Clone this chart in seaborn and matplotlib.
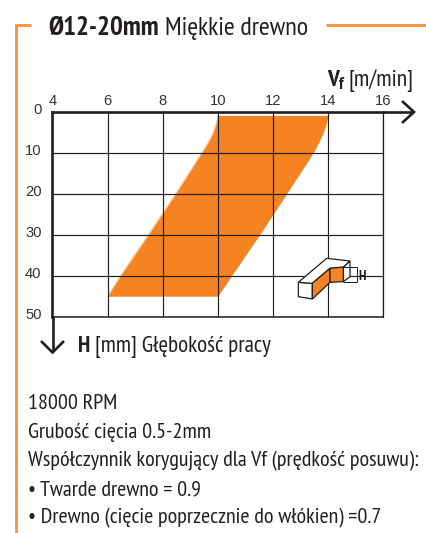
import matplotlib
matplotlib.use("Agg")
import matplotlib.pyplot as plt
from matplotlib.patches import Polygon
from matplotlib.transforms import Affine2D, ScaledTranslation
from matplotlib import font_manager as fm
import seaborn as sns

# data
vf_ticks = [4, 6, 8, 10, 12, 14, 16]
h_ticks = [0, 10, 20, 30, 40, 50]
band_h = [0.9, 2.5, 5.3, 7.5, 10, 20, 30, 40, 45]
band_left = [10.0, 9.96, 9.82, 9.65, 9.42, 8.47, 7.48, 6.47, 6.0]
band_right = [14.0, 13.96, 13.82, 13.66, 13.47, 12.5, 11.52, 10.5, 10.0]
title_bold = "Ø12-20mm"
title_light = "Miękkie drewno"
notes = ["18000 RPM", "Grubość cięcia 0.5-2mm",
         "Współczynnik korygujący dla Vf (prędkość posuwu):",
         "• Twarde drewno = 0.9",
         "• Drewno (cięcie poprzecznie do włókien) =0.7"]

ORANGE = "#F58322"
BORDER = "#F7923A"
INK = "#231F20"

sns.set_theme(style="white")
names = {f.name for f in fm.fontManager.ttflist}
COND = next((n for n in ["PT Sans Narrow", "Fira Sans Condensed", "Roboto Condensed",
                         "Liberation Sans Narrow", "Liberation Sans"] if n in names), "DejaVu Sans")
plt.rcParams["font.family"] = [COND, "DejaVu Sans"]

W, H = 427, 533
fig = plt.figure(figsize=(W / 100, H / 100), dpi=100, facecolor="white")
x0, x1, ytop, ybot = 52.5, 383, 111.7, 316.7
ax = fig.add_axes([x0 / W, 1 - ybot / H, (x1 - x0) / W, (ybot - ytop) / H])
px = Affine2D().scale(1, -1).translate(0, H)  # reference-pixel layout coordinates

ax.fill_betweenx(band_h, band_left, band_right, color=ORANGE, lw=0, zorder=1)
sns.lineplot(x=band_left, y=band_h, orient="y", color=ORANGE, lw=0.3, ax=ax, zorder=1)
sns.lineplot(x=band_right, y=band_h, orient="y", color=ORANGE, lw=0.3, ax=ax, zorder=1)

ax.set_xlim(4, 16)
ax.set_ylim(50, 0)
ax.set_xticks(vf_ticks)
ax.set_yticks(h_ticks)
ax.grid(True, color="#1f1f1f", lw=0.85, zorder=2)
ax.set_axisbelow(False)
ax.xaxis.tick_top()
ax.tick_params(length=0, labelsize=10.6, labelcolor="#333333", pad=2.5)
for lab in ax.get_xticklabels() + ax.get_yticklabels():
    lab.set_family("Liberation Sans")
for lab in ax.get_yticklabels():
    lab.set_transform(lab.get_transform() + ScaledTranslation(-7.5 / 100, 3.5 / 100, fig.dpi_scale_trans))
for s, lw in (("top", 1.9), ("left", 1.9), ("bottom", 1.1), ("right", 0.9)):
    ax.spines[s].set_visible(True)
    ax.spines[s].set_color("#1f1f1f")
    ax.spines[s].set_linewidth(lw)


def line(xs, ys, lw=1.0, color="#1f1f1f", z=6):
    fig.add_artist(plt.Line2D(xs, ys, transform=px, color=color, lw=lw, zorder=z,
                              solid_capstyle="butt", solid_joinstyle="miter"))


def text(x, y, s, **kw):
    kw.setdefault("color", INK)
    return fig.text(x, y, s, transform=px, va="baseline", **kw)


# axis arrows
line([383, 413], [112, 112], 1.9)
line([402, 414, 402], [101, 112, 123], 1.9)
line([52.5, 52.5], [316, 351], 1.9)
line([41, 52.5, 64], [341, 352.5, 341], 1.9)

# orange frame
line([31, 15.5, 15.5], [25, 25, 533], 2.0, BORDER)
line([326, 427], [25, 25], 2.0, BORDER)

# headings
text(48, 35, title_bold, fontsize=19.5, fontweight="bold")
text(165, 35, title_light, fontsize=18.9)
text(327, 86, "V", fontsize=17, fontweight="bold")
text(339, 89, "f", fontsize=12.5, fontweight="bold")
text(349, 86, "[m/min]", fontsize=17)
text(78, 352, "H", fontsize=16.7, fontweight="bold")
text(95, 352, "[mm] Głębokość pracy", fontsize=16.7)

# notes
for y, s in zip([409, 437.5, 466, 495, 523], notes):
    text(28, y, s, fontsize=15.9)

# workpiece icon, reference-pixel layout
def icon_xy(pts):
    return [(280 + a / 3, 250 + b / 3) for a, b in pts]


def icon_poly(pts, fc):
    fig.add_artist(Polygon(icon_xy(pts), closed=True, transform=px, fc=fc, ec="#1f1f1f", lw=0.9, zorder=5))


icon_poly([(55, 97), (97, 100), (97, 147), (55, 140)], "white")
icon_poly([(55, 97), (140, 25), (210, 33), (190, 52), (150, 55), (97, 100)], "white")
icon_poly([(190, 52), (210, 33), (210, 80), (190, 95)], "white")
icon_poly([(97, 100), (150, 55), (150, 97), (97, 147)], ORANGE)
icon_poly([(150, 55), (190, 51), (190, 95), (150, 97)], ORANGE)
for seg in ([(190, 52), (230, 52)], [(190, 95), (230, 95)], [(230, 52), (230, 95)]):
    p = icon_xy(seg)
    line([p[0][0], p[1][0]], [p[0][1], p[1][1]], 0.7)
text(358.5, 279.5, "H", fontsize=10, fontweight="bold", ha="left", zorder=7)

fig.savefig("out.png", dpi=100)
